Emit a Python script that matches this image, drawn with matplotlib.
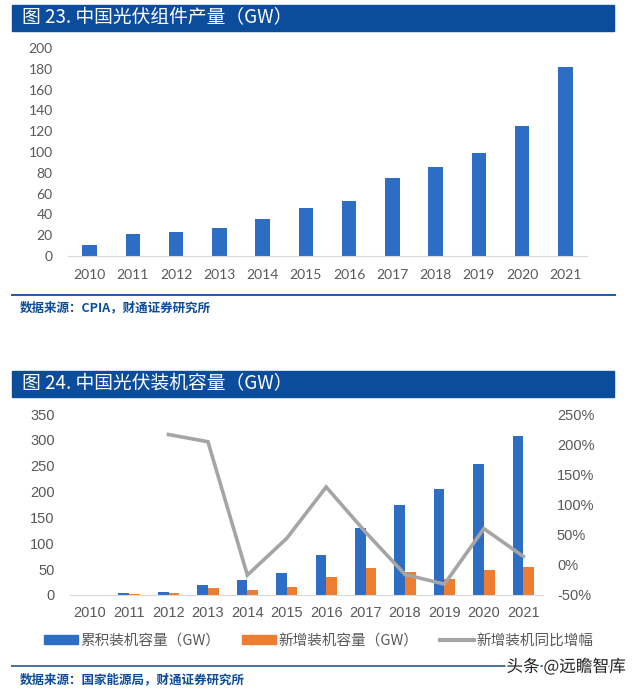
import numpy as np
import matplotlib
matplotlib.use('Agg')
import matplotlib.pyplot as plt
from matplotlib.patches import Rectangle, Patch
from matplotlib.lines import Line2D
from matplotlib.ticker import FuncFormatter
import matplotlib.patheffects as pe

plt.rcParams['font.family'] = ['Noto Sans CJK SC', 'DejaVu Sans']

W, H = 640, 689

# data
years = ['2010', '2011', '2012', '2013', '2014', '2015',
         '2016', '2017', '2018', '2019', '2020', '2021']
module_output = [10.8, 21.0, 23.0, 27.4, 35.6, 45.8, 53.0, 75.0, 85.7, 98.6, 124.6, 182.0]
cum_capacity = [0.8, 3.0, 6.5, 19.4, 28.1, 43.2, 77.4, 130.3, 174.5, 204.3, 253.4, 306.6]
new_capacity = [0.5, 2.7, 3.6, 12.9, 10.6, 15.1, 34.5, 53.1, 44.3, 30.1, 48.2, 54.9]
new_yoy = [np.nan, np.nan, 216.0, 204.0, -17.0, 44.0, 129.0, 54.0, -16.0, -32.0, 60.0, 14.0]

TITLE_BLUE = '#0b4c9c'
BAR_BLUE = '#2e6dc4'
ORANGE = '#ed7d31'
GRAY_LINE = '#a5a5a5'
TICK_GRAY = '#595959'


def fx(px):
    return px / W


def fy(py):
    return 1 - py / H


def title_bar(fig, y_top, y_bot, text):
    fig.patches.append(Rectangle((fx(12), fy(y_bot)), fx(614 - 12), (y_bot - y_top) / H,
                                 transform=fig.transFigure, color=TITLE_BLUE, zorder=0))
    fig.text(fx(22), fy((y_top + y_bot) / 2), text, color='white', fontsize=13.5,
             fontweight='medium', va='center', ha='left')


def source_line(fig, y_line, y_text, text, color):
    fig.lines.append(Line2D([fx(12), fx(615)], [fy(y_line), fy(y_line)],
                            transform=fig.transFigure, color=color, lw=1.4))
    fig.text(fx(20), fy(y_text), text, color=TITLE_BLUE, fontsize=9,
             fontweight='bold', va='center', ha='left')


fig = plt.figure(figsize=(W / 100, H / 100), dpi=100)

# ---- chart 23: module output
title_bar(fig, 5, 31, '图 23. 中国光伏组件产量（GW）')
ax1 = fig.add_axes([fx(68), fy(256), fx(587 - 68), (256 - 48) / H])
x = np.arange(len(years))
ax1.bar(x, module_output, width=0.34, color=BAR_BLUE)
ax1.set_xlim(-0.5, len(years) - 0.5)
ax1.set_ylim(0, 200)
ax1.set_yticks(range(0, 201, 20))
ax1.set_xticks(x)
ax1.set_xticklabels(years)
for s in ['top', 'right', 'left']:
    ax1.spines[s].set_visible(False)
ax1.spines['bottom'].set_color('#d9d9d9')
ax1.tick_params(axis='y', length=0, pad=11, labelsize=10, labelcolor=TICK_GRAY)
ax1.tick_params(axis='x', length=0, pad=9, labelsize=10, labelcolor=TICK_GRAY)
for lab in ax1.get_xticklabels() + ax1.get_yticklabels():
    lab.set_family('Lato')
source_line(fig, 295, 308, '数据来源：CPIA，财通证券研究所', '#1a5ca8')

# ---- chart 24: installed capacity
title_bar(fig, 371, 397, '图 24. 中国光伏装机容量（GW）')
ax2 = fig.add_axes([fx(70), fy(595), fx(543 - 70), (595 - 414) / H])
bw = 0.27
ax2.bar(x - bw / 2, cum_capacity, width=bw, color=BAR_BLUE)
ax2.bar(x + bw / 2, new_capacity, width=bw, color=ORANGE)
ax2.set_xlim(-0.5, len(years) - 0.5)
ax2.set_ylim(0, 350)
ax2.set_yticks(range(0, 351, 50))
ax2.set_xticks(x)
ax2.set_xticklabels(years)
for s in ['top', 'right', 'left']:
    ax2.spines[s].set_visible(False)
ax2.spines['bottom'].set_color('#d9d9d9')
ax2.tick_params(axis='y', length=0, pad=11, labelsize=10.5, labelcolor=TICK_GRAY)
ax2.tick_params(axis='x', length=0, pad=8, labelsize=10.5, labelcolor=TICK_GRAY)

ax3 = ax2.twinx()
ax3.plot(x, new_yoy, color=GRAY_LINE, lw=2.6, solid_joinstyle='miter')
ax3.set_ylim(-50, 250)
ax3.set_yticks(range(-50, 251, 50))
ax3.yaxis.set_major_formatter(FuncFormatter(lambda v, p: f'{v:.0f}%'))
for s in ['top', 'right', 'left', 'bottom']:
    ax3.spines[s].set_visible(False)
ax3.tick_params(axis='y', length=0, pad=10, labelsize=10.5, labelcolor=TICK_GRAY)
for lab in (ax2.get_xticklabels() + ax2.get_yticklabels() + ax3.get_yticklabels()):
    lab.set_family('Liberation Sans')

handles = [Patch(color=BAR_BLUE), Patch(color=ORANGE), Line2D([], [], color=GRAY_LINE, lw=3)]
labels = ['累积装机容量（GW）', '新增装机容量（GW）', '新增装机同比增幅']
leg = fig.legend(handles, labels, loc='center', bbox_to_anchor=(fx(319), fy(641)), ncol=3,
                 frameon=False, fontsize=10.5, handlelength=2.3, handleheight=0.55,
                 handletextpad=0.2, columnspacing=1.5, labelcolor=TICK_GRAY)

source_line(fig, 666, 680, '数据来源：国家能源局，财通证券研究所', '#4d6f99')

fig.text(fx(566), fy(667), '头条 @远瞻智库', fontsize=12, color='#222222', ha='center', va='center',
         path_effects=[pe.withStroke(linewidth=2.5, foreground='white')])

fig.savefig('out.png', dpi=100)
